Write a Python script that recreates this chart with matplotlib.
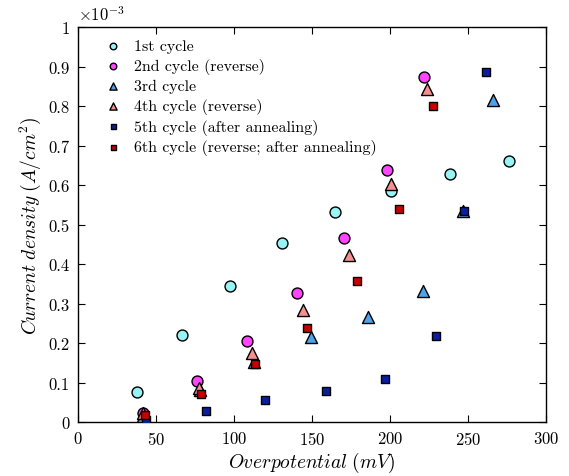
import matplotlib
matplotlib.use("Agg")
import matplotlib.pyplot as plt
from matplotlib.ticker import FuncFormatter, MultipleLocator

plt.rcParams.update({
    "font.family": "serif",
    "font.serif": ["cmr10"],
    "mathtext.fontset": "cm",
    "axes.unicode_minus": False,
    "axes.formatter.use_mathtext": True,
    "font.size": 12,
})

# Overpotential (mV) and current density (x1e-3 A/cm^2) for each cycle
labels = [
    "1st cycle",
    "2nd cycle (reverse)",
    "3rd cycle",
    "4th cycle (reverse)",
    "5th cycle (after annealing)",
    "6th cycle (reverse; after annealing)",
]

eta_1 = [37.6, 66.9, 97.4, 130.6, 164.7, 200.4, 238.7, 276.5]
j_1 = [0.077, 0.219, 0.344, 0.452, 0.531, 0.586, 0.628, 0.660]

eta_2 = [41.9, 76.1, 108.5, 140.6, 170.7, 197.9, 221.6]
j_2 = [0.024, 0.104, 0.204, 0.326, 0.465, 0.637, 0.874]

eta_3 = [42.0, 78.2, 113.0, 149.1, 185.9, 221.0, 246.8, 266.0]
j_3 = [0.015, 0.082, 0.151, 0.214, 0.266, 0.331, 0.535, 0.815]

eta_4 = [42.0, 77.8, 111.3, 144.0, 173.7, 200.4, 223.7]
j_4 = [0.024, 0.087, 0.174, 0.283, 0.423, 0.603, 0.843]

eta_5 = [43.4, 81.8, 120.0, 159.2, 197.0, 229.3, 247.2, 261.8]
j_5 = [0.004, 0.029, 0.055, 0.079, 0.109, 0.218, 0.535, 0.886]

eta_6 = [42.9, 78.6, 113.2, 146.8, 178.8, 205.5, 227.8]
j_6 = [0.018, 0.072, 0.147, 0.238, 0.356, 0.538, 0.800]

series = [
    (eta_1, j_1, "o", "#98F4F4", 62),
    (eta_2, j_2, "o", "#FF45FF", 62),
    (eta_3, j_3, "^", "#4EA3E8", 75),
    (eta_4, j_4, "^", "#F59090", 75),
    (eta_5, j_5, "s", "#0A1FA0", 36),
    (eta_6, j_6, "s", "#C80000", 36),
]

fig = plt.figure(figsize=(5.69, 4.77), dpi=100)
ax = fig.add_axes([0.137, 0.1132, 0.8226, 0.8281])

for (x, y, m, c, s), lab in zip(series, labels):
    ax.scatter(x, y, marker=m, s=s, facecolor=c, edgecolor="black",
               linewidth=1.0, label=lab, zorder=3)

ax.set_xlim(0, 300)
ax.set_ylim(0, 1.0)
ax.xaxis.set_major_locator(MultipleLocator(50))
ax.yaxis.set_major_locator(MultipleLocator(0.1))
ax.yaxis.set_major_formatter(FuncFormatter(lambda v, p: "%g" % round(v, 3)))
ax.tick_params(direction="in", top=True, right=True, length=5, width=0.8,
               labelsize=12, pad=6)
for sp in ax.spines.values():
    sp.set_linewidth(1.0)

ax.text(0.0, 1.01, r"$\times10^{-3}$", transform=ax.transAxes,
        ha="left", va="bottom", fontsize=12)

ax.set_xlabel(r"$Overpotential\;(mV)$", fontsize=14, labelpad=2)
ax.set_ylabel(r"$Current\ density\;(A/cm^2)$", fontsize=14, labelpad=4)

ax.legend(loc="upper left", frameon=False, markerscale=0.6, fontsize=11.5,
          handletextpad=0.5, handlelength=1.6, labelspacing=0.3,
          borderaxespad=0.35, bbox_to_anchor=(0.022, 1.0))

fig.savefig("out.png", dpi=100)
